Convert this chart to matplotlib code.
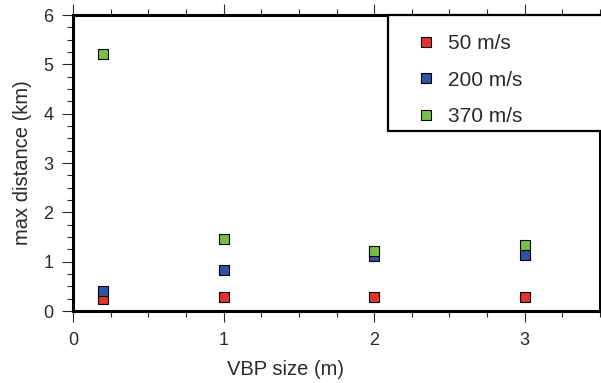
import matplotlib.pyplot as plt
from matplotlib.ticker import MultipleLocator
from matplotlib.patches import Rectangle

plt.rcParams['font.family'] = ['Liberation Sans', 'DejaVu Sans']

# VBP size (m) and max distance (km) per velocity
vbp_size = [0.2, 1, 2, 3]
dist_50 = [0.24, 0.28, 0.28, 0.28]
dist_200 = [0.41, 0.83, 1.12, 1.13]
dist_370 = [5.2, 1.46, 1.22, 1.33]

series = [
    ('50 m/s', dist_50, '#e8312a'),
    ('200 m/s', dist_200, '#2b55a6'),
    ('370 m/s', dist_370, '#76c043'),
]

txt = '#2a2a2a'

fig = plt.figure(figsize=(6.01, 3.83), dpi=100)
ax = fig.add_axes([73 / 601, 72 / 383, 527 / 601, 296 / 383])

for label, vals, col in series:
    ax.plot(vbp_size, vals, linestyle='none', marker='s', markersize=7.5,
            markerfacecolor=col, markeredgecolor='black', markeredgewidth=0.8,
            label=label, clip_on=False, zorder=3)

ax.set_xlim(0, 3.5)
ax.set_ylim(0, 6)
ax.xaxis.set_major_locator(MultipleLocator(1))
ax.xaxis.set_minor_locator(MultipleLocator(0.25))
ax.yaxis.set_major_locator(MultipleLocator(1))
ax.yaxis.set_minor_locator(MultipleLocator(0.25))

ax.tick_params(which='both', direction='out', top=True, right=False,
               color=txt, width=0.8, labelcolor=txt, labelsize=13)
ax.tick_params(which='major', length=8)
ax.tick_params(which='minor', length=4)
ax.tick_params(axis='x', which='major', pad=7)
ax.tick_params(axis='y', which='major', pad=6)

for s in ax.spines.values():
    s.set_linewidth(2.2)
    s.set_color('black')

ax.set_ylabel('max distance (km)', fontsize=14.5, color=txt, labelpad=8)
ax.set_xlabel('VBP size (m)', fontsize=14.5, color=txt, labelpad=6)
ax.xaxis.set_label_coords(0.404, -0.165)

# legend box
ax.add_patch(Rectangle(((388 - 73) / 527, 1 - 116 / 296), 1, 116 / 296,
                       transform=ax.transAxes, facecolor='white', edgecolor='black',
                       linewidth=1.6, zorder=4, clip_on=False))
leg = ax.legend(loc='upper left', bbox_to_anchor=((416 - 73) / 527, 1 - 19 / 296),
                frameon=False, fontsize=15, labelspacing=0.85, handletextpad=0.55,
                handlelength=1.0, borderaxespad=0, borderpad=0)
leg.set_zorder(5)
for t in leg.get_texts():
    t.set_color(txt)

fig.savefig('out.png', dpi=100)
